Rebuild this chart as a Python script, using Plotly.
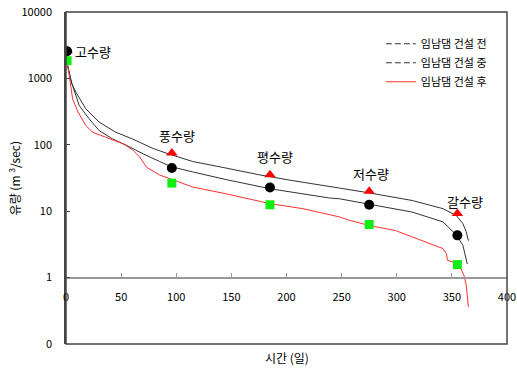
import numpy as np
import plotly.graph_objects as go

# ---- data ----
days_before = [1, 3, 5, 9, 18, 30, 45, 60, 79, 94, 115, 145, 175, 205, 239, 248, 274, 314, 342, 354, 360, 363, 365]
flow_before = [1700, 1150, 850, 620, 348, 220, 155, 123, 88, 72, 56, 44.7, 35.4, 29, 23.1, 22.3, 19, 14.5, 10.9, 8.6, 6.5, 4.9, 3.6]

days_during = [1, 5, 12, 21, 30, 42, 55, 70, 85, 95, 115, 145, 185, 215, 239, 248, 274, 314, 342, 354, 360, 364]
flow_during = [1700, 875, 390, 246, 164, 123, 98, 73, 56, 47, 39, 30, 21.8, 18.3, 15.8, 15.4, 12.8, 9.7, 6.9, 4.4, 3.06, 1.6]

days_after = [1, 3, 6, 11, 18, 24, 36, 52, 60, 67, 73, 85, 94, 115, 145, 185, 215, 248, 257, 275, 299, 324, 342, 345, 346, 356, 360, 361, 363, 365]
flow_after = [1700, 1100, 490, 310, 195, 155, 130, 103, 85, 65, 46, 35, 31, 23.1, 18.3, 13, 10.9, 8.2, 7.3, 6.1, 5.1, 3.6, 2.73, 2.3, 1.82, 1.62, 1.22, 1.08, 0.77, 0.36]

mark_days = [1, 96, 185, 275, 355]
mark_tri = [2600, 75, 35.4, 19.9, 9.2]
mark_circ = [2570, 44.7, 22.8, 12.5, 4.33]
mark_sq = [1850, 26.5, 12.5, 6.3, 1.57]
mark_labels = ['고수량', '풍수량', '평수량', '저수량', '갈수량']

legend_names = ['임남댐 건설 전', '임남댐 건설 중', '임남댐 건설 후']

ytick_vals = [0.1, 1, 10, 100, 1000, 10000]
ytick_text = ['0', '1', '10', '100', '1000', '10000']
xtick_vals = [0, 50, 100, 150, 200, 250, 300, 350, 400]

FONT = 'Noto Sans CJK KR'
DARK = '#333333'
RED = '#ff3030'

fig = go.Figure()

# real curves (legend handled by proxy traces)
fig.add_trace(go.Scatter(x=days_before, y=flow_before, mode='lines',
                         line=dict(color=DARK, width=1), showlegend=False))
fig.add_trace(go.Scatter(x=days_during, y=flow_during, mode='lines',
                         line=dict(color=DARK, width=1), showlegend=False))
fig.add_trace(go.Scatter(x=days_after, y=flow_after, mode='lines',
                         line=dict(color=RED, width=1), showlegend=False))

# markers
fig.add_trace(go.Scatter(x=mark_days, y=mark_tri, mode='markers', showlegend=False,
                         marker=dict(symbol='triangle-up', size=10, color='#ff0000')))
fig.add_trace(go.Scatter(x=mark_days, y=mark_sq, mode='markers', showlegend=False,
                         marker=dict(symbol='square', size=9, color='#11ee11')))
fig.add_trace(go.Scatter(x=mark_days, y=mark_circ, mode='markers', showlegend=False,
                         marker=dict(symbol='circle', size=10, color='#000000')))

# legend proxies
fig.add_trace(go.Scatter(x=[None], y=[None], mode='lines', name=legend_names[0],
                         line=dict(color=DARK, width=1, dash='6px,3px')))
fig.add_trace(go.Scatter(x=[None], y=[None], mode='lines', name=legend_names[1],
                         line=dict(color=DARK, width=1, dash='6px,3px')))
fig.add_trace(go.Scatter(x=[None], y=[None], mode='lines', name=legend_names[2],
                         line=dict(color=RED, width=1)))

# point labels
shifts = [(6, 0, 'left'), (5, 18, 'center'), (5, 18, 'center'), (2, 18, 'center'), (8, 12, 'center')]
for i, lab in enumerate(mark_labels):
    xs, ys, xa = shifts[i]
    yv = mark_circ[i] if i == 0 else mark_tri[i]
    fig.add_annotation(x=mark_days[i], y=np.log10(yv), xref='x', yref='y', text=lab,
                       showarrow=False, xanchor=xa, yanchor='middle', xshift=xs, yshift=ys,
                       font=dict(family=FONT, size=13, color='#000'))

# axis titles
fig.add_annotation(x=-0.117, y=0.5, xref='paper', yref='paper', text='유량 (m <sup>3</sup>/sec)',
                   textangle=-90, showarrow=False, xanchor='center', yanchor='middle',
                   font=dict(family=FONT, size=12, color='#000'))
fig.add_annotation(x=0.5, y=-0.041, xref='paper', yref='paper', text='시간 (일)',
                   showarrow=False, xanchor='center', yanchor='middle',
                   font=dict(family=FONT, size=12, color='#000'))

# frame
fig.add_shape(type='rect', xref='paper', yref='paper', x0=0, x1=1, y0=0, y1=1,
              line=dict(color='#444444', width=1.5), layer='above')

fig.update_layout(
    width=517, height=376,
    margin=dict(l=66, r=10, t=12, b=32, autoexpand=False),
    paper_bgcolor='white', plot_bgcolor='white',
    font=dict(family=FONT, size=11, color='#000'),
    legend=dict(x=0.714, y=0.948, xanchor='left', yanchor='top',
                bgcolor='rgba(0,0,0,0)', font=dict(family=FONT, size=11),
                tracegroupgap=0),
    xaxis=dict(range=[0, 400], tickvals=xtick_vals, showgrid=False, zeroline=False,
               anchor='free', position=0.2, showline=True, linecolor='#999999', linewidth=1.5,
               ticks='inside', ticklen=4, tickcolor='#999999', automargin=False,
               tickfont=dict(family=FONT, size=11), ticklabelstandoff=9),
    yaxis=dict(type='log', range=[-1, 4], tickvals=ytick_vals, ticktext=ytick_text,
               showgrid=False, zeroline=False, showline=True, linecolor='#444444', linewidth=1.5,
               ticks='inside', ticklen=4, tickcolor='#444444', automargin=False,
               tickfont=dict(family=FONT, size=11), ticklabelstandoff=10),
)

# remove the page's default body margin so the figure sits at the window's corner
fig.write_html('out.html', config={'displayModeBar': False},
               post_script="document.body.style.margin='0';")
